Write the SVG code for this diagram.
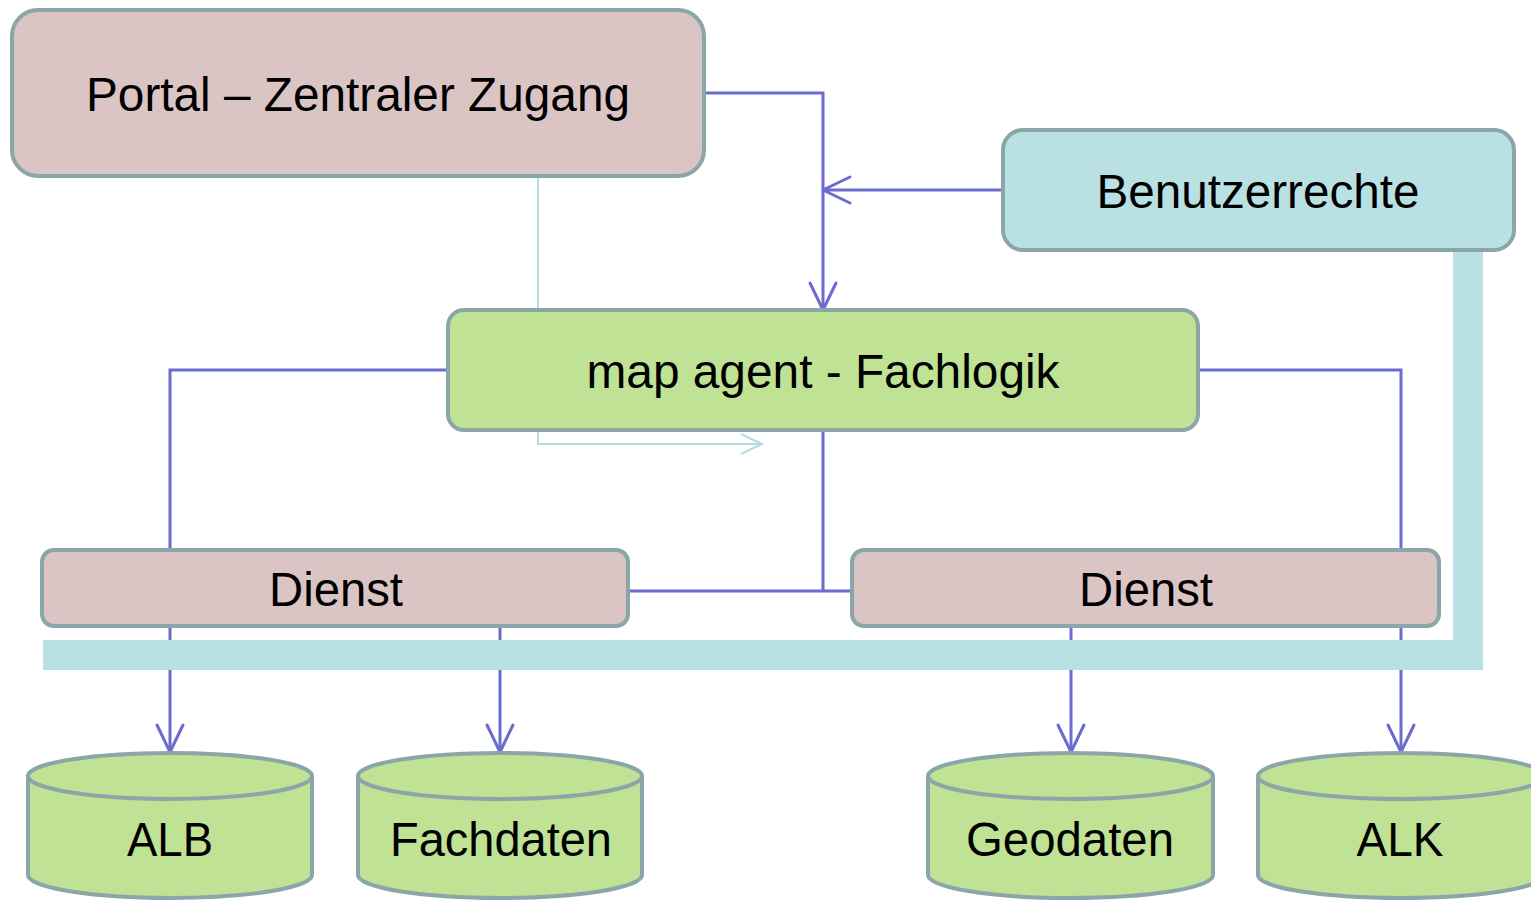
<svg xmlns="http://www.w3.org/2000/svg" width="1531" height="901" viewBox="0 0 1531 901">
<style>
.box{stroke:#8aa6a8;stroke-width:4}
.pink{fill:#dac4c4}
.cyan{fill:#b9e0e2}
.green{fill:#bfe294}
.lbl{font-family:"Liberation Sans",Arial,sans-serif;fill:#000;text-anchor:middle}
.conn{fill:none;stroke:#6b6bd0;stroke-width:3}
.aux{fill:none;stroke:#b5dde0;stroke-width:2}
</style>
<defs>
<marker id="arr" viewBox="-30 -16 34 32" refX="0" refY="0" markerWidth="34" markerHeight="32" markerUnits="userSpaceOnUse" orient="auto">
<path d="M-27,-13 L0,0 L-27,13" fill="none" stroke="#6b6bd0" stroke-width="3" stroke-linecap="round" stroke-linejoin="round"/>
</marker>
<marker id="arrl" viewBox="-24 -12 28 24" refX="0" refY="0" markerWidth="28" markerHeight="24" markerUnits="userSpaceOnUse" orient="auto">
<path d="M-21,-10 L0,0 L-21,10" fill="none" stroke="#b5dde0" stroke-width="2"/>
</marker>
</defs>
<rect width="1531" height="901" fill="#fff"/>
<g id="connectors">
<polyline class="aux" points="538,176 538,310"/>
<polyline class="aux" points="538,430 538,444 762,444" marker-end="url(#arrl)"/>
<polyline class="conn" points="704,93 823,93 823,310" marker-end="url(#arr)"/>
<polyline class="conn" points="1003,190 823,190" marker-end="url(#arr)"/>
<polyline class="conn" points="448,370 170,370 170,550"/>
<polyline class="conn" points="1198,370 1401,370 1401,550"/>
<polyline class="conn" points="823,430 823,591"/>
<polyline class="conn" points="628,591 852,591"/>
<polyline class="conn" points="170,626 170,752" marker-end="url(#arr)"/>
<polyline class="conn" points="500,626 500,752" marker-end="url(#arr)"/>
<polyline class="conn" points="1071,626 1071,752" marker-end="url(#arr)"/>
<polyline class="conn" points="1401,626 1401,752" marker-end="url(#arr)"/>
</g>
<g id="bus">
<path d="M43,640 H1453 V252 H1483 V670 H43 Z" fill="#b9e0e2"/>
</g>
<g id="portal">
<rect class="box pink" x="12" y="10" width="692" height="166" rx="26"/>
<text class="lbl" x="358" y="111" font-size="48" textLength="544" lengthAdjust="spacingAndGlyphs">Portal – Zentraler Zugang</text>
</g>
<g id="benutzerrechte">
<rect class="box cyan" x="1003" y="130" width="511" height="120" rx="20"/>
<text class="lbl" x="1258" y="208" font-size="48" textLength="323" lengthAdjust="spacingAndGlyphs">Benutzerrechte</text>
</g>
<g id="mapagent">
<rect class="box green" x="448" y="310" width="750" height="120" rx="16"/>
<text class="lbl" x="823" y="388" font-size="48" textLength="473" lengthAdjust="spacingAndGlyphs">map agent - Fachlogik</text>
</g>
<g id="dienst1">
<rect class="box pink" x="42" y="550" width="586" height="76" rx="12"/>
<text class="lbl" x="336" y="606" font-size="48" textLength="134" lengthAdjust="spacingAndGlyphs">Dienst</text>
</g>
<g id="dienst2">
<rect class="box pink" x="852" y="550" width="587" height="76" rx="12"/>
<text class="lbl" x="1146" y="606" font-size="48" textLength="134" lengthAdjust="spacingAndGlyphs">Dienst</text>
</g>
<g id="alb">
<path class="box green" d="M28,776 V875 A142,23 0 0 0 312,875 V776"/>
<ellipse class="box green" cx="170" cy="776" rx="142" ry="23"/>
<text class="lbl" x="170" y="856" font-size="48" textLength="86" lengthAdjust="spacingAndGlyphs">ALB</text>
</g>
<g id="fachdaten">
<path class="box green" d="M358,776 V875 A142,23 0 0 0 642,875 V776"/>
<ellipse class="box green" cx="500" cy="776" rx="142" ry="23"/>
<text class="lbl" x="501" y="856" font-size="48" textLength="222" lengthAdjust="spacingAndGlyphs">Fachdaten</text>
</g>
<g id="geodaten">
<path class="box green" d="M928,776 V875 A142,23 0 0 0 1213,875 V776"/>
<ellipse class="box green" cx="1070.5" cy="776" rx="142.5" ry="23"/>
<text class="lbl" x="1070" y="856" font-size="48" textLength="208" lengthAdjust="spacingAndGlyphs">Geodaten</text>
</g>
<g id="alk">
<path class="box green" d="M1258,776 V875 A143,23 0 0 0 1544,875 V776"/>
<ellipse class="box green" cx="1401" cy="776" rx="143" ry="23"/>
<text class="lbl" x="1400" y="856" font-size="48" textLength="87" lengthAdjust="spacingAndGlyphs">ALK</text>
</g>
</svg>
